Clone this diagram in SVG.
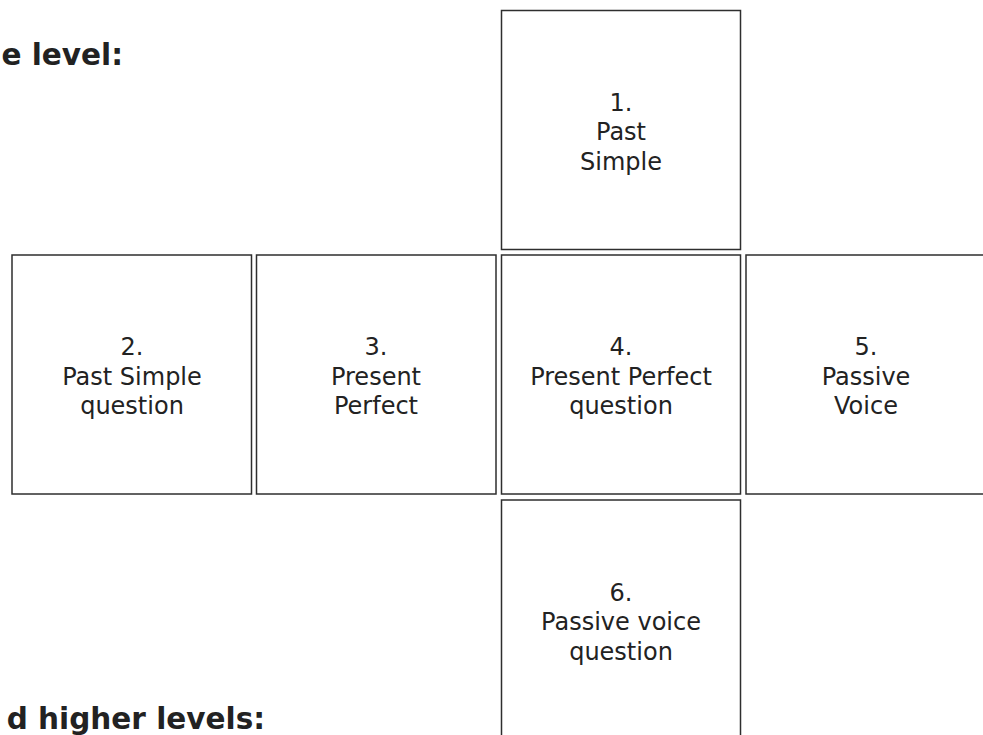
<svg xmlns="http://www.w3.org/2000/svg" width="983" height="735" viewBox="0 0 983 735">
<style>
.box{fill:#fff;stroke:#2e2e2e;stroke-width:1.5}
.lbl{font-family:"DejaVu Sans","Liberation Sans",sans-serif;font-size:24px;fill:#222;text-anchor:middle}
.hdr{font-family:"DejaVu Sans","Liberation Sans",sans-serif;font-size:29.5px;font-weight:bold;fill:#222;text-anchor:end}
</style>
<rect x="0" y="0" width="983" height="735" fill="#fff"/>
<g id="headers">
<text class="hdr" x="123" y="65">e level:</text>
<text class="hdr" x="265" y="729">d higher levels:</text>
</g>
<g id="connectors"></g>
<g id="node1">
<rect class="box" x="501.5" y="10.5" width="239" height="239"/>
<text class="lbl"><tspan x="621" y="110.5">1.</tspan><tspan x="621" y="140">Past</tspan><tspan x="621" y="169.5">Simple</tspan></text>
</g>
<g id="node2">
<rect class="box" x="12" y="255" width="239.5" height="239"/>
<text class="lbl"><tspan x="132" y="355">2.</tspan><tspan x="132" y="384.5">Past Simple</tspan><tspan x="132" y="414">question</tspan></text>
</g>
<g id="node3">
<rect class="box" x="256.5" y="255" width="239.5" height="239"/>
<text class="lbl"><tspan x="376" y="355">3.</tspan><tspan x="376" y="384.5">Present</tspan><tspan x="376" y="414">Perfect</tspan></text>
</g>
<g id="node4">
<rect class="box" x="501.5" y="255" width="239" height="239"/>
<text class="lbl"><tspan x="621" y="355">4.</tspan><tspan x="621" y="384.5">Present Perfect</tspan><tspan x="621" y="414">question</tspan></text>
</g>
<g id="node5">
<rect class="box" x="746" y="255" width="240" height="239"/>
<text class="lbl"><tspan x="866" y="355">5.</tspan><tspan x="866" y="384.5">Passive</tspan><tspan x="866" y="414">Voice</tspan></text>
</g>
<g id="node6">
<rect class="box" x="501.5" y="500" width="239" height="240"/>
<text class="lbl"><tspan x="621" y="600.5">6.</tspan><tspan x="621" y="630">Passive voice</tspan><tspan x="621" y="659.5">question</tspan></text>
</g>
</svg>
